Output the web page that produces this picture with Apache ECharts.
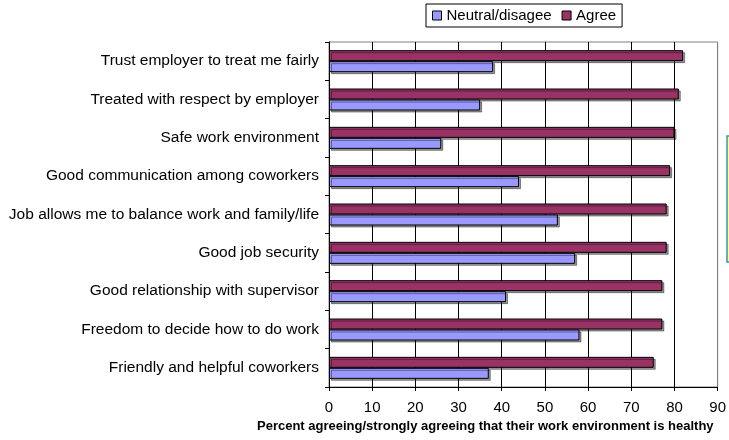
<!DOCTYPE html>
<html>
<head>
<meta charset="utf-8">
<script src="https://cdn.jsdelivr.net/npm/echarts@6/dist/echarts.min.js"></script>
<style>
html,body{margin:0;padding:0;background:#fff;}
#chart{width:729px;height:440px;}
</style>
</head>
<body>
<div id="chart"></div>
<script>
const categories = [
  "Trust employer to treat me fairly",
  "Treated with respect by employer",
  "Safe work environment",
  "Good communication among coworkers",
  "Job allows me to balance work and family/life",
  "Good job security",
  "Good relationship with supervisor",
  "Freedom to decide how to do work",
  "Friendly and helpful coworkers"
];
const neutralValues = [38, 35, 26, 44, 53, 57, 41, 58, 37];
const agreeValues = [82, 81, 80, 79, 78.2, 78.2, 77.2, 77.2, 75.2];
const seriesNames = ["Neutral/disagee", "Agree"];
const xTicks = [0, 10, 20, 30, 40, 50, 60, 70, 80, 90];
const xTitle = 'Percent agreeing/strongly agreeing that their work environment is healthy';

const chart = echarts.init(document.getElementById('chart'));
const font = 'Liberation Sans, Arial, sans-serif';
const barStyle = (c) => ({
  color: c, borderColor: '#000', borderWidth: 1,
  shadowColor: 'rgba(0,0,0,0.4)', shadowOffsetX: 2, shadowOffsetY: 2, shadowBlur: 0
});
chart.setOption({
  animation: false,
  textStyle: {fontFamily: font},
  legend: {
    top: 4, left: 426, itemGap: 10, itemWidth: 9, itemHeight: 9,
    padding: [4, 6, 4, 6],
    borderColor: '#000', borderWidth: 1,
    icon: 'rect',
    textStyle: {fontSize: 15, color: '#000', fontFamily: font, padding: [0, 0, 0, 0]},
    itemStyle: {borderColor: '#000', borderWidth: 1},
    data: seriesNames
  },
  grid: {left: 329, right: 9, top: 42, bottom: 53, show: true, borderColor: '#808080', borderWidth: 1, backgroundColor: '#fff'},
  xAxis: {
    type: 'value', min: xTicks[0], max: xTicks[xTicks.length - 1], interval: 10,
    axisLine: {show: true, lineStyle: {color: '#000'}},
    axisTick: {show: true, length: 4, lineStyle: {color: '#000'}},
    axisLabel: {fontSize: 15, color: '#000', margin: 13, fontFamily: font},
    splitLine: {show: true, lineStyle: {color: ['#000','#000','#000','#000','#000','#000','#000','#000','#000','#808080']}}
  },
  yAxis: {
    type: 'category', data: categories, inverse: true,
    axisLine: {show: true, lineStyle: {color: '#000'}},
    axisTick: {show: true, length: 4, lineStyle: {color: '#000'}},
    axisLabel: {fontSize: 15.5, color: '#000', margin: 10, fontFamily: font}
  },
  series: [
    {name: seriesNames[1], type: 'bar', data: agreeValues, barWidth: 11, barGap: '0%', itemStyle: barStyle('#993366')},
    {name: seriesNames[0], type: 'bar', data: neutralValues, barWidth: 11, barGap: '0%', itemStyle: barStyle('#9999FF')}
  ],
  graphic: [
    {type: 'rect', shape: {x: 727, y: 136, width: 10, height: 126}, style: {fill: '#FFFF99', stroke: '#3399AA', lineWidth: 1.5}},
    {type: 'text', left: 257, top: 420, style: {text: xTitle, font: 'bold 13px ' + font, fill: '#000'}}
  ]
});
</script>
</body>
</html>
